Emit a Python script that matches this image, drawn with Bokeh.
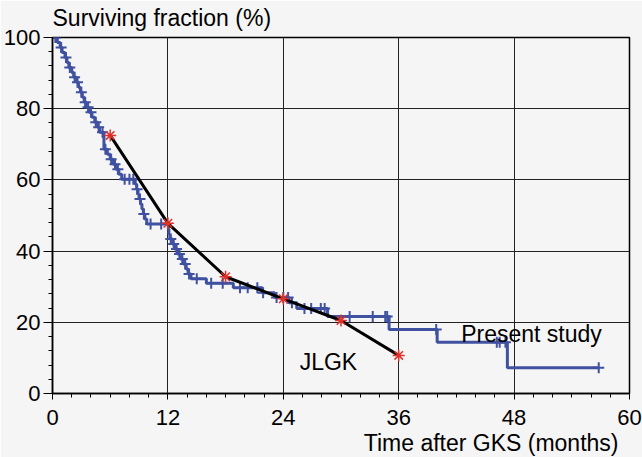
import numpy as np
from bokeh.plotting import figure
from bokeh.models import Label, SingleIntervalTicker, Range1d, Title
from bokeh.embed import file_html
from bokeh.resources import INLINE

# ---- data ----
# Present study: Kaplan-Meier steps (time in months, surviving fraction % from that time)
km_time = [0.0, 0.5, 0.8, 1.0, 1.3, 1.5, 1.7, 2.0, 2.2, 2.5, 2.7, 2.9, 3.1, 3.3, 3.5,
           3.8, 4.1, 4.4, 4.7, 4.9, 5.35, 5.7, 6.0, 6.3, 6.6, 6.9, 7.2,
           8.6, 8.75, 8.9, 9.0, 9.15, 9.3, 9.45, 9.6, 9.8,
           12.05, 12.1, 12.2, 12.5, 12.7, 13.0, 13.3, 13.6, 13.9, 14.1, 14.4,
           16.0, 18.8, 21.8, 23.1, 24.6, 25.4, 28.6, 35.0, 40.0, 47.3]
km_surv = [100.0, 98.6, 97.2, 95.8, 94.4, 93.0, 91.6, 90.2, 88.8, 87.4, 86.0, 84.6, 83.2, 81.8, 80.4,
           79.0, 77.6, 76.2, 74.8, 73.4, 68.6, 67.2, 65.8, 64.4, 63.0, 61.6, 60.2,
           58.8, 57.4, 56.0, 54.6, 53.2, 51.8, 50.4, 49.0, 47.6,
           46.2, 44.8, 43.4, 42.0, 40.6, 39.2, 37.8, 36.4, 35.0, 33.6, 32.2,
           31.0, 29.7, 28.3, 27.0, 25.5, 23.9, 21.6, 18.0, 14.4, 7.2]
km_last_time = 56.8

# censored observations (months)
censor_time = [0.3, 0.9, 1.4, 1.8, 2.3, 2.6, 3.0, 3.4, 3.7, 4.0, 4.5, 4.8, 5.2, 5.5,
               6.1, 6.5, 6.8, 7.5, 8.0, 8.4, 8.8, 9.1, 9.5, 10.2, 11.3,
               12.3, 12.6, 12.9, 13.2, 13.5, 13.8, 14.2, 15.0, 16.5, 17.7,
               19.5, 20.3, 21.3, 21.9, 23.3, 24.0, 24.5, 24.9, 26.2, 26.9, 27.9, 28.3,
               30.9, 33.3, 34.6, 34.8, 39.9, 46.2, 46.5, 47.1, 56.8]

# JLGK series
jlgk_time = [6, 12, 18, 24, 30, 36]
jlgk_surv = [72.5, 47.8, 32.8, 26.6, 20.5, 10.7]

x_tick_step = 12
y_tick_step = 20

# ---- derived ----
step_x = km_time + [km_last_time]
step_y = km_surv + [km_surv[-1]]
idx = np.searchsorted(np.array(km_time), np.array(censor_time), side="right") - 1
censor_surv = [km_surv[i] for i in idx]

BG = "#f5f5f5"
BLUE = "#3f51a0"
FONT = "Liberation Sans"

p = figure(width=642, height=457, output_backend="svg", toolbar_location=None,
           x_range=Range1d(0, 60), y_range=Range1d(0, 100),
           min_border_left=51, min_border_right=13, min_border_top=36, min_border_bottom=64)
p.background_fill_color = BG
p.border_fill_color = BG
p.outline_line_color = "black"
p.outline_line_width = 1.5

p.xaxis.ticker = SingleIntervalTicker(interval=x_tick_step, num_minor_ticks=6)
p.yaxis.ticker = SingleIntervalTicker(interval=y_tick_step, num_minor_ticks=5)
for ax in (p.xaxis, p.yaxis):
    ax.axis_line_color = "black"
    ax.axis_line_width = 1.5
    ax.major_tick_line_color = "black"
    ax.minor_tick_line_color = "black"
    ax.major_tick_in = 0
    ax.minor_tick_in = 0
    ax.minor_tick_out = 4
    ax.major_label_text_font = FONT
    ax.major_label_text_font_size = "22px"
    ax.major_label_text_color = "black"
p.xaxis.major_tick_out = 6
p.xaxis.major_label_standoff = 10
p.yaxis.major_tick_out = 9
p.yaxis.major_label_standoff = 3

p.xgrid.grid_line_color = "#222222"
p.ygrid.grid_line_color = "#222222"
p.xgrid.grid_line_width = 1
p.ygrid.grid_line_width = 1

# axis titles as layout titles
p.title = Title(text="Surviving fraction (%)", align="left", text_font=FONT,
                text_font_size="23px", text_font_style="normal", text_color="black",
                vertical_align="top", standoff=9)
p.add_layout(Title(text="Time after GKS (months)", align="right", text_font=FONT,
                   text_font_size="23px", text_font_style="normal", text_color="black",
                   vertical_align="bottom", standoff=0, offset=11), "below")

# Present study
p.step(step_x, step_y, mode="after", line_color=BLUE, line_width=3)
p.scatter(censor_time, censor_surv, marker="cross", size=11, line_color=BLUE, line_width=2)

# JLGK
p.line(jlgk_time, jlgk_surv, line_color="black", line_width=3)
p.scatter(jlgk_time, jlgk_surv, marker="asterisk", size=12, line_color="#e0302a", line_width=1.5)

def lab(text, x, y, **kw):
    p.add_layout(Label(x=x, y=y, text=text, text_font=FONT, text_font_size="23px",
                       text_color="black", **kw))

lab("JLGK", 25.7, 8.8, text_baseline="alphabetic")
lab("Present study", 42.5, 16.8, text_baseline="alphabetic")

open("out.html", "w").write(file_html(p, INLINE))
